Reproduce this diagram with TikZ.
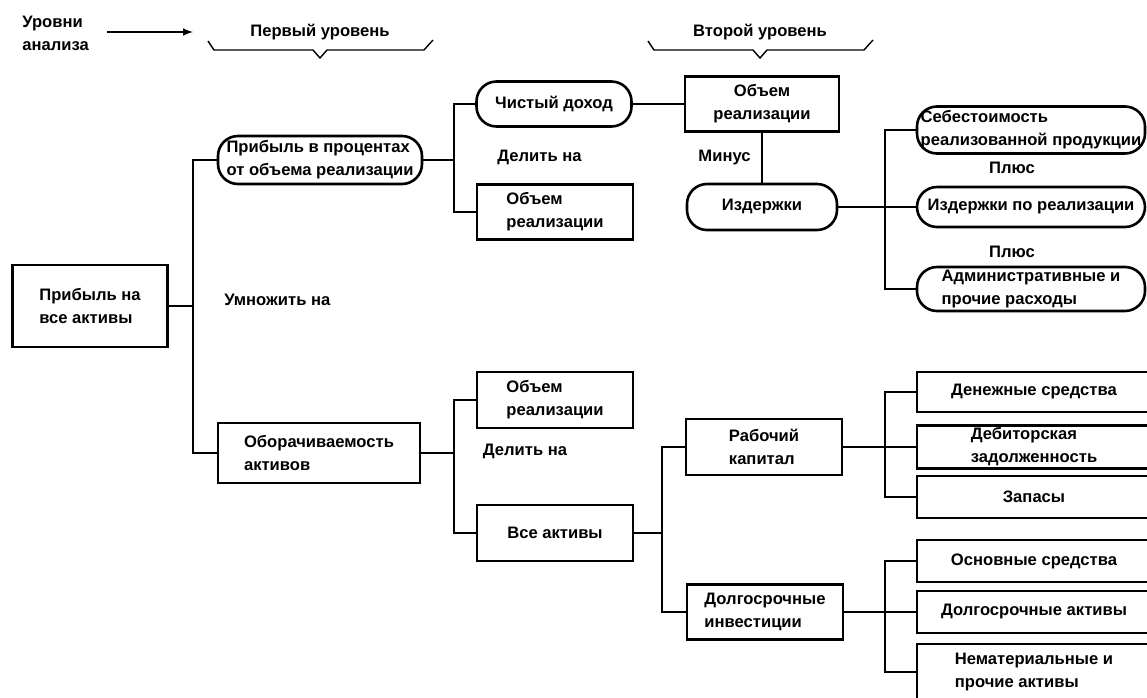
\documentclass[tikz,border=0pt]{standalone}
\usepackage{fontspec}
\setmainfont{Liberation Sans}
\begin{document}
\begin{tikzpicture}[x = 0.5pt, y = -0.5pt,
    every node/.style = {font = \fontsize{8.3}{11.5}\selectfont\bfseries, inner sep = 1pt},
    box/.style 2 args = {draw, line width = 1.3pt, align = left,
      minimum width = #1*0.5pt, minimum height = #2*0.5pt},
    pill/.style 2 args = {box = {#1}{#2}, rounded corners = 10pt},
    wire/.style = {line width = 0.7pt}]
  \useasboundingbox (0,0) rectangle (1147,697);
  \clip (0,0) rectangle (1147,697);
  % levels of the analysis
  \node[align = left, anchor = west] (levels) at (20,33) {Уровни\\анализа};
  \node (first) at (320,32) {Первый уровень};
  \node (second) at (760,32) {Второй уровень};
  \coordinate (arrowend) at (193,32);
  \draw[wire, -latex] ([xshift = 8pt]levels.east |- arrowend) -- (arrowend);
  \foreach \c in {320, 760}
    \draw[wire] (\c-112,41) -- (\c-106,50) -- (\c-7,50) -- (\c,58) -- (\c+7,50)
      -- (\c+104,50) -- (\c+113,40);
  % first level
  \node[box = {155}{82}] (root) at (90,306) {Прибыль на\\все активы};
  \node[pill = {204}{48}] (pct) at (320,160) {Прибыль в процентах\\от объема реализации};
  \node[box = {202}{60}] (turn) at (319,453) {Оборачиваемость\\активов};
  \node[anchor = west] (mult) at (222,300) {Умножить на};
  \coordinate (j1) at (193,0);
  \coordinate (j2) at (454,0);
  \coordinate (j3) at (885,0);
  \coordinate (j4) at (662,0);
  \draw[wire] (root.east) -- (root.east -| j1);
  \draw[wire] (pct.west) -| (j1 |- turn.west) -- (turn.west);
  % margin branch
  \node[pill = {155}{45}] (net) at (554,104) {Чистый доход};
  \node[box = {156}{55}] (salesA) at (555,212) {Объем\\реализации};
  \node[anchor = west] (divA) at (495,157) {Делить на};
  \draw[wire] (pct.east) -- (pct.east -| j2);
  \draw[wire] (net.west) -| (j2 |- salesA.west) -- (salesA.west);
  \node[box = {154}{55}, align = center] (sales) at (762,104) {Объем\\реализации};
  \node[pill = {150}{46}] (cost) at (762,207) {Издержки};
  \node[anchor = east] (minus) at (753,158) {Минус};
  \draw[wire] (net) -- (sales);
  \draw[wire] (sales) -- (cost);
  \node[pill = {228}{47}] (cogs) at (1031,130) {Себестоимость\\реализованной продукции};
  \node[pill = {228}{40}] (selling) at (1031,207) {Издержки по реализации};
  \node[pill = {228}{44}] (admin) at (1031,289) {Административные и\\прочие расходы};
  \node (plusA) at (1012,168) {Плюс};
  \node (plusB) at (1012,252) {Плюс};
  \draw[wire] (cost) -- (selling);
  \draw[wire] (cogs.west) -| (j3 |- admin.west) -- (admin.west);
  % turnover branch
  \node[box = {156}{56}] (salesB) at (555,400) {Объем\\реализации};
  \node[box = {156}{56}] (assets) at (555,533) {Все активы};
  \node (divB) at (525,451) {Делить на};
  \draw[wire] (turn.east) -- (turn.east -| j2);
  \draw[wire] (salesB.west) -| (j2 |- assets.west) -- (assets.west);
  \node[box = {156}{56}] (wc) at (764,447) {Рабочий\\капитал};
  \node[box = {156}{55}] (lti) at (765,612) {Долгосрочные\\инвестиции};
  \draw[wire] (assets.east) -- (assets.east -| j4);
  \draw[wire] (wc.west) -| (j4 |- lti.west) -- (lti.west);
  \node[box = {234}{40}] (cash) at (1034,392) {Денежные средства};
  \node[box = {234}{42}] (recv) at (1034,447) {Дебиторская\\задолженность};
  \node[box = {234}{42}] (inv) at (1034,497) {Запасы};
  \draw[wire] (wc) -- (recv);
  \draw[wire] (cash.west) -| (j3 |- inv.west) -- (inv.west);
  \node[box = {234}{42}] (fixed) at (1034,561) {Основные средства};
  \node[box = {234}{42}] (ltassets) at (1034,612) {Долгосрочные активы};
  \node[box = {234}{56}] (intang) at (1034,672) {Нематериальные и\\прочие активы};
  \draw[wire] (lti) -- (ltassets);
  \draw[wire] (fixed.west) -| (j3 |- intang.west) -- (intang.west);
\end{tikzpicture}
\end{document}
